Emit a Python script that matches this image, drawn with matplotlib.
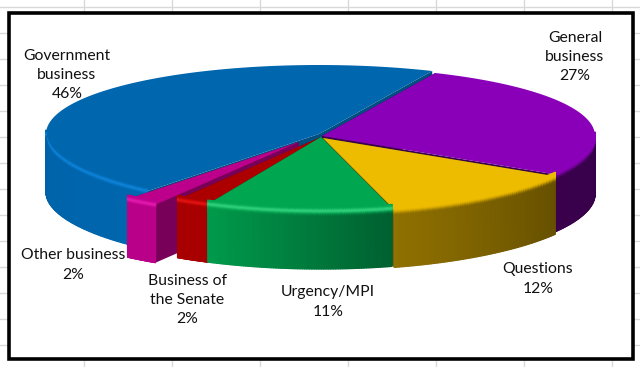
#!/usr/bin/env python3
"""Senate time share, drawn as an extruded pie with a spreadsheet grid behind it."""

import numpy as np
import matplotlib
matplotlib.use("Agg")
import matplotlib.pyplot as plt
from matplotlib.collections import PolyCollection
from matplotlib.colors import to_rgb
from matplotlib.patches import Rectangle

# data, clockwise from the back of the pie
categories = ["General\nbusiness", "Questions", "Urgency/MPI",
              "Business of\nthe Senate", "Other business", "Government\nbusiness"]
shares = [27, 12, 11, 2, 2, 46]
start_angle = 65.5

# pixel layout of the ellipse
CX, CY = 321, 137
RX, RY = 273, 71.5
DEPTH = 58

offsets = [(1, -1), (2, 1), (0, 0), (0, 0), (-22, 5), (-2, -3)]
top_colors = ["#8A00B8", "#EDBB00", "#00A650", "#AC0000", "#BC008C", "#0066AE"]
wall_left = ["#3A004C", "#8F7000", "#009A4B", "#A80000", "#B80088", "#0063AA"]
wall_right = ["#38004A", "#665000", "#006030", "#A80000", "#B80088", "#0066AE"]
face_colors = ["#38004A", "#6B5200", "#006030", "#7A0000", "#780058", "#004F80"]
glow_colors = [None, None, "#38D884", "#F01818", "#EE20B8", "#1088E0"]
draw_order = [5, 4, 0, 1, 3, 2]

label_pos = [(575, 57), (538, 279), (328, 302), (187, 300), (73, 265), (67, 75)]

plt.rcParams["font.family"] = ["Lato", "DejaVu Sans"]


def rim(theta, dx=0, dy=0):
    """Point on the top rim, a little flatter at the back for perspective."""
    s = np.sin(np.radians(theta))
    return (CX + dx + RX * np.cos(np.radians(theta)),
            CY + dy - RY * s * (1 - 0.035 * s))


def mix(a, b, t):
    a, b = np.array(to_rgb(a)), np.array(to_rgb(b))
    return a + (b - a) * t


def draw_slice(ax, i, th0, th1):
    dx, dy = offsets[i]
    tipx, tipy = CX + dx, CY + dy

    # radial side faces
    for th in (th0, th1):
        x, y = rim(th, dx, dy)
        ax.fill([tipx, x, x, tipx], [tipy, y, y + DEPTH, tipy + DEPTH],
                color=face_colors[i], lw=0, zorder=3)

    # flat top
    thetas = np.linspace(th0, th1, 120)
    x, y = rim(thetas, dx, dy)
    ax.fill(np.r_[tipx, x], np.r_[tipy, y], color=top_colors[i], lw=0, zorder=3)

    # outer wall and bevel, only the part that faces the viewer
    a, b = min(th0, 0), max(th1, -180)
    if a <= b:
        return
    thetas = np.linspace(a, b, 80)
    rows = np.r_[np.linspace(-4, 8, 13), DEPTH]
    quads, cols = [], []
    for j in range(len(thetas) - 1):
        wall = mix(wall_right[i], wall_left[i], j / (len(thetas) - 2))
        x0, y0 = rim(thetas[j], dx, dy)
        x1, y1 = rim(thetas[j + 1], dx, dy)
        for k in range(len(rows) - 1):
            d0, d1 = rows[k], rows[k + 1]
            quads.append([(x0, y0 + d0), (x1, y1 + d0), (x1, y1 + d1), (x0, y0 + d1)])
            t = np.clip(d0 / 6, 0, 1)
            c = mix(top_colors[i], wall, t * t * (3 - 2 * t))
            if glow_colors[i]:
                c = mix(c, glow_colors[i], np.exp(-(d0 / 2) ** 2) * 0.85)
            cols.append(c)
    ax.add_collection(PolyCollection(quads, facecolors=cols, edgecolors="face",
                                     linewidths=0.9, zorder=3))


fig = plt.figure(figsize=(6.4, 3.67), dpi=100)
ax = fig.add_axes([0, 0, 1, 1])
ax.set_xlim(0, 640)
ax.set_ylim(367, 0)
ax.axis("off")

# sheet grid behind the chart
for x in range(84, 640, 88):
    ax.axvline(x, color="#D9D9D9", lw=1, zorder=1)
for y in range(7, 367, 26):
    ax.axhline(y, color="#D9D9D9", lw=1, zorder=1)
ax.add_patch(Rectangle((8.5, 12.5), 624, 346, facecolor="white",
                       edgecolor="black", lw=2.6, zorder=2))

# slice angles come from the shares
edges = start_angle - np.r_[0, np.cumsum(shares)] * 3.6
for i in draw_order:
    draw_slice(ax, i, edges[i], edges[i + 1])

for name, share, (x, y) in zip(categories, shares, label_pos):
    ax.text(x, y, f"{name}\n{share}%", ha="center", va="center", fontsize=11.3,
            color="#111111", linespacing=1.48, zorder=5)

fig.savefig("out.png", dpi=100)
